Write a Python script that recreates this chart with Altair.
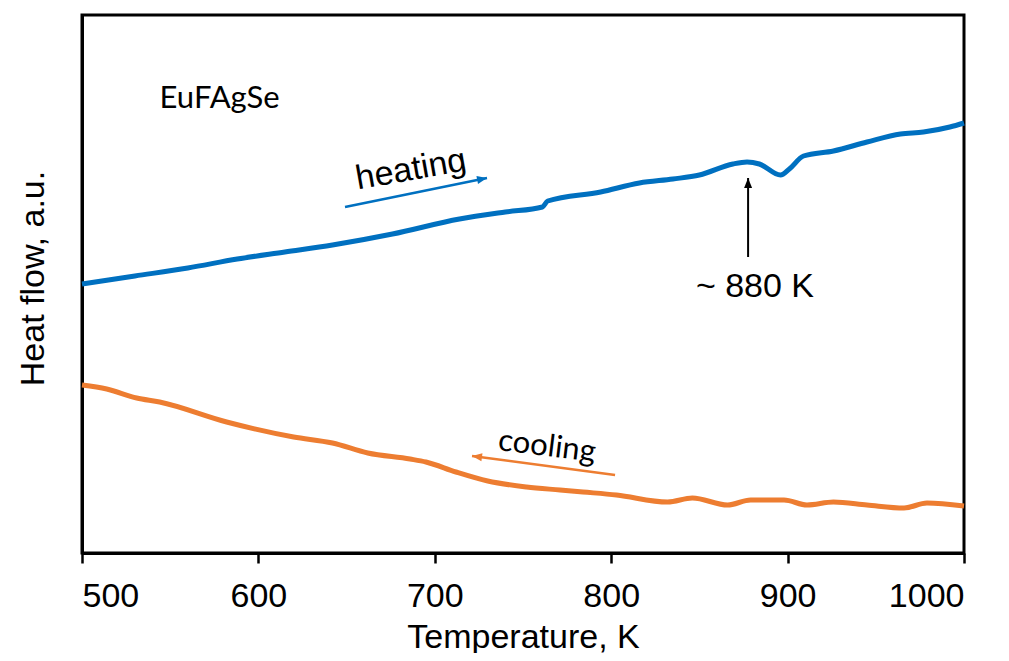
import altair as alt
import pandas as pd

# Heating curve (temperature K, heat flow a.u.)
heat_T = [500, 530, 560, 588, 615, 642, 676, 714, 740, 761, 764, 794, 816, 835, 850,
          869, 877, 884, 896, 901, 909, 926, 945, 964, 977, 992, 1000]
heat_Y = [269, 277, 285, 294, 301, 308, 319, 334, 341, 346, 352, 361, 370, 374, 378,
          389, 391, 389, 378, 384, 397, 402, 411, 419, 421, 426, 430]

# Cooling curve
cool_T = [500, 514, 531, 544, 582, 620, 642, 662, 686, 695, 712, 730, 752, 771, 784,
          803, 832, 846, 866, 879, 898, 911, 926, 945, 966, 979, 1000]
cool_Y = [168, 164, 155, 151, 131, 116, 110, 100, 94, 91, 81, 72, 66, 63, 61,
          58, 51, 55, 48, 53, 53, 48, 51, 48, 45, 50, 47]

x_ticks = [500, 600, 700, 800, 900, 1000]

# Annotations (data coordinates)
labels_text = ["EuFAgSe", "heating", "~ 880 K", "cooling"]
labels_T = [544, 686.5, 881.5, 763.6]
labels_Y = [454, 383, 266, 106]

arrow_names = ["heating", "cooling", "transition"]
arrow_T1 = [649.1, 802.2, 877.6]
arrow_Y1 = [346, 78, 296]
arrow_T2 = [729.6, 721.1, 877.6]
arrow_Y2 = [375, 97, 375]

BLUE = "#0070C0"
ORANGE = "#ED7D31"

curves = pd.DataFrame({
    "T": heat_T + cool_T,
    "Y": heat_Y + cool_Y,
    "run": ["heating"] * len(heat_T) + ["cooling"] * len(cool_T),
})

xscale = alt.Scale(domain=[500, 1000], nice=False, zero=False)
yscale = alt.Scale(domain=[0, 538], nice=False, zero=False)

x_enc = alt.X("T:Q", scale=xscale,
              axis=alt.Axis(title="Temperature, K", values=x_ticks, format="d", grid=False,
                            tickSize=10, tickWidth=2.5, tickColor="black",
                            domainColor="black", domainWidth=3,
                            labelFont="Liberation Sans", labelFontSize=34,
                            labelColor="black", labelPadding=16,
                            titleFont="Liberation Sans", titleFontSize=34,
                            titleFontWeight="normal", titleColor="black",
                            titleBaseline="alphabetic", titleY=94))
y_enc = alt.Y("Y:Q", scale=yscale,
              axis=alt.Axis(title="Heat flow, a.u.", labels=False, ticks=False, grid=False,
                            domainColor="black", domainWidth=3,
                            titleFont="Liberation Sans", titleFontSize=34,
                            titleFontWeight="normal", titleColor="black",
                            titleBaseline="alphabetic", titleX=-39, titleY=263,
                            titleAngle=-90))

lines = alt.Chart(curves).mark_line(strokeWidth=5, interpolate="monotone").encode(
    x=x_enc, y=y_enc,
    color=alt.Color("run:N", scale=alt.Scale(domain=["heating", "cooling"], range=[BLUE, ORANGE]),
                    legend=None),
    detail="run:N",
)

lab = pd.DataFrame({"text": labels_text, "T": labels_T, "Y": labels_Y})

def text_layer(i, font, size, angle, align, color="black"):
    d = lab.iloc[[i]]
    return alt.Chart(d).mark_text(font=font, fontSize=size, angle=angle, align=align,
                                  baseline="middle", color=color).encode(
        x=alt.X("T:Q", scale=xscale), y=alt.Y("Y:Q", scale=yscale), text="text:N")

t_eu = text_layer(0, "Lato", 31, 0, "left")
t_heat = text_layer(1, "Liberation Sans", 34, 350, "center")
t_880 = text_layer(2, "Liberation Sans", 34, 0, "center")
t_cool = text_layer(3, "Lato", 31, 7, "center")

arr = pd.DataFrame({"name": arrow_names, "T1": arrow_T1, "Y1": arrow_Y1,
                    "T2": arrow_T2, "Y2": arrow_Y2})
arrow_colors = [BLUE, ORANGE, "black"]
arrow_widths = [2.5, 2.5, 2]
arrow_angles = [348.5, 187.6, 270]

arrow_layers = []
head_path = "M0,0L-2,-0.8L-2,0.8Z"
for i in range(3):
    d = arr.iloc[[i]]
    shaft = alt.Chart(d).mark_rule(color=arrow_colors[i], strokeWidth=arrow_widths[i]).encode(
        x=alt.X("T1:Q", scale=xscale), y=alt.Y("Y1:Q", scale=yscale),
        x2="T2:Q", y2="Y2:Q")
    head = alt.Chart(d).mark_point(shape=head_path, filled=True, size=100, opacity=1,
                                   color=arrow_colors[i], angle=arrow_angles[i],
                                   strokeWidth=0).encode(
        x=alt.X("T2:Q", scale=xscale), y=alt.Y("Y2:Q", scale=yscale))
    arrow_layers += [shaft, head]

chart = alt.layer(lines, t_eu, t_heat, t_880, t_cool, *arrow_layers).properties(
    width=882, height=538,
    autosize=alt.AutoSizeParams(type="none"),
    padding={"left": 74, "top": 7, "right": 37, "bottom": 100},
).configure(background="white").configure_view(stroke="black", strokeWidth=3)

chart.save("out.html", embed_options={"renderer": "svg", "actions": False})
